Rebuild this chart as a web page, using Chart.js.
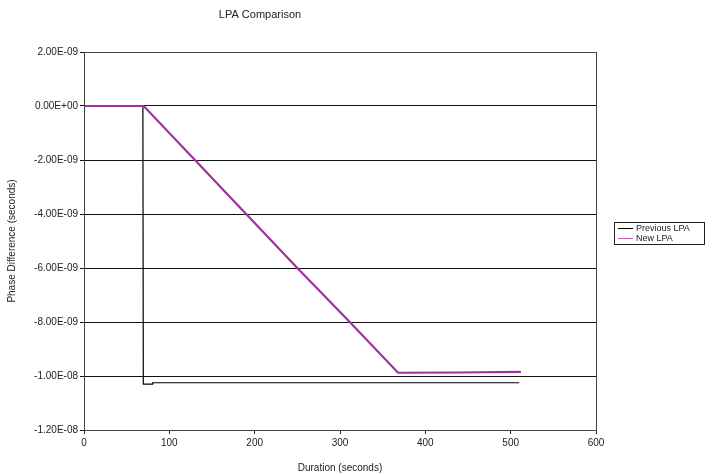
<!DOCTYPE html>
<html>
<head>
<meta charset="utf-8">
<script src="https://cdn.jsdelivr.net/npm/chart.js@4.4.0/dist/chart.umd.min.js"></script>
<style>
  html, body { margin: 0; padding: 0; background: #fff; }
  #wrap { width: 714px; height: 474px; }
</style>
</head>
<body>
<div id="wrap"><canvas id="lpaChart" width="714" height="474"></canvas></div>
<script>
// values (x in seconds, y in seconds of phase)
const prevX = [0, 69, 69.5, 80, 80.5, 510];
const prevY = [0, 0, -1.03e-8, -1.03e-8, -1.025e-8, -1.025e-8];
const newX = [0, 70, 130, 190, 250, 310, 368, 440, 512];
const newY = [0, 0, -2.0e-9, -4.0e-9, -6.0e-9, -7.95e-9, -9.88e-9, -9.87e-9, -9.85e-9];
const seriesNames = ["Previous LPA", "New LPA"];
const xTicks = [0, 100, 200, 300, 400, 500, 600];
const yTicks = [2e-9, 0, -2e-9, -4e-9, -6e-9, -8e-9, -1e-8, -1.2e-8];

const FONT = "'Liberation Sans', Arial, sans-serif";

function toPoints(xs, ys) {
  return xs.map((x, i) => ({ x: x, y: ys[i] }));
}

function sci(v) {
  if (Math.abs(v) < 1e-15) return "0.00E+00";
  const s = v.toExponential(2).toUpperCase();
  const [m, e] = s.split("E");
  const sign = e[0] === "-" ? "-" : "+";
  let digits = e.replace("+", "").replace("-", "");
  if (digits.length < 2) digits = "0" + digits;
  return m + "E" + sign + digits;
}

// frame, title and boxed legend the way the original draws them
const decor = {
  id: "decor",
  afterDraw(chart) {
    const c = chart.ctx;
    const a = chart.chartArea;
    c.save();
    c.strokeStyle = "#444";
    c.lineWidth = 1;
    c.strokeRect(Math.round(a.left) + 0.5, Math.round(a.top) + 0.5,
      Math.round(a.right - a.left), Math.round(a.bottom - a.top));

    c.fillStyle = "#222";
    c.font = "11px " + FONT;
    c.textAlign = "center";
    c.textBaseline = "middle";
    c.fillText("LPA Comparison", 260, 15);

    // legend
    const lx = 614, ly = 222, lw = 90, lh = 22;
    c.strokeStyle = "#222";
    c.strokeRect(lx + 0.5, ly + 0.5, lw, lh);
    c.font = "9px " + FONT;
    c.textAlign = "left";
    chart.data.datasets.forEach((ds, i) => {
      const y = ly + 6 + i * 10;
      c.strokeStyle = i === 0 ? "#000" : "#c060b0";
      c.lineWidth = 1;
      c.beginPath();
      c.moveTo(lx + 4, y + 0.5);
      c.lineTo(lx + 19, y + 0.5);
      c.stroke();
      c.fillStyle = "#222";
      c.fillText(ds.label, lx + 22, y + 1);
    });
    c.restore();
  }
};

const ctx = document.getElementById("lpaChart").getContext("2d");
const chart = new Chart(ctx, {
  type: "scatter",
  data: {
    datasets: [
      {
        label: seriesNames[0],
        data: toPoints(prevX, prevY),
        showLine: true,
        borderColor: "#000",
        borderWidth: 1.2,
        pointRadius: 0,
        order: 1
      },
      {
        label: seriesNames[1],
        data: toPoints(newX, newY),
        showLine: true,
        borderColor: "#a0309c",
        borderWidth: 2.2,
        pointRadius: 0,
        order: 0
      }
    ]
  },
  options: {
    responsive: false,
    animation: false,
    layout: { padding: { left: 6, right: 118, top: 52, bottom: 0 } },
    plugins: {
      legend: { display: false },
      title: { display: false },
      tooltip: { enabled: false }
    },
    scales: {
      x: {
        type: "linear",
        min: 0,
        max: 600,
        afterBuildTicks: s => { s.ticks = xTicks.map(v => ({ value: v })); },
        afterFit: s => { s.height = 44; },
        grid: { drawOnChartArea: false, drawTicks: true, tickLength: 4, color: "#222" },
        border: { color: "#222" },
        ticks: { color: "#222", font: { family: FONT, size: 10 }, padding: 3, maxRotation: 0 },
        title: { display: true, text: "Duration (seconds)", color: "#222", font: { family: FONT, size: 10 }, padding: { top: 4, bottom: 0 } }
      },
      y: {
        type: "linear",
        min: -1.2e-8,
        max: 2e-9,
        afterBuildTicks: s => { s.ticks = yTicks.map(v => ({ value: v })); },
        afterFit: s => { s.width = 78; },
        grid: { color: "#111", lineWidth: 1, tickLength: 4 },
        border: { color: "#222" },
        ticks: { color: "#222", font: { family: FONT, size: 10 }, padding: 2, callback: v => sci(v) },
        title: { display: true, text: "Phase Difference (seconds)", color: "#222", font: { family: FONT, size: 10 }, padding: { top: 0, bottom: 4 } }
      }
    }
  },
  plugins: [decor]
});
</script>
</body>
</html>
